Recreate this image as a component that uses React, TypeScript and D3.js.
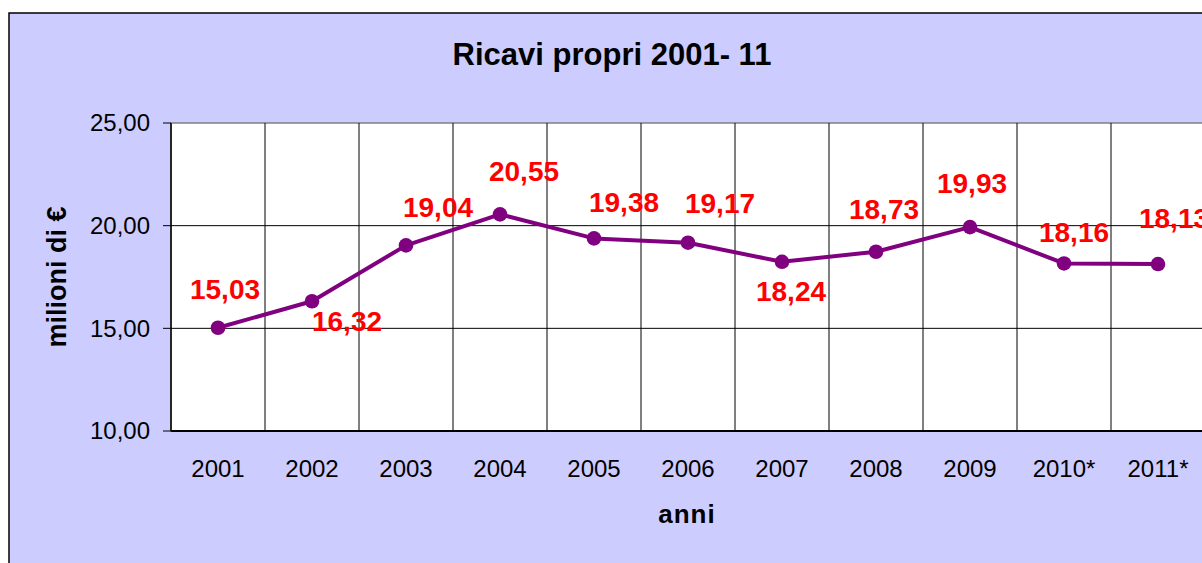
import React from "react";
import * as d3 from "d3";

const categories = ["2001", "2002", "2003", "2004", "2005", "2006", "2007", "2008", "2009", "2010*", "2011*"];
const values = [15.03, 16.32, 19.04, 20.55, 19.38, 19.17, 18.24, 18.73, 19.93, 18.16, 18.13];
const yTicks = [10, 15, 20, 25];
// label placement offsets (baseline centre relative to point)
const labelDx = [7, 35, 32, 24, 30, 32, 9, 8, 2, 10, 16];
const labelDy = [-29, 30, -28, -33, -26, -30, 39, -33, -34, -21, -36];

const W = 1202;
const H = 563;
const plot = { left: 171, top: 123, right: 1205, bottom: 431 };
const FONT = "'Liberation Sans', Arial, Helvetica, sans-serif";

export default function App() {
  const x = d3.scaleBand<string>().domain(categories).range([plot.left, plot.right]).padding(0);
  const y = d3.scaleLinear().domain([10, 25]).range([plot.bottom, plot.top]);
  const cx = (c: string) => (x(c) as number) + x.bandwidth() / 2;
  const line = d3
    .line<number>()
    .x((_, i) => cx(categories[i]))
    .y((d) => y(d));
  const fmt = (v: number) => v.toFixed(2).replace(".", ",");

  return (
    <div style={{ position: "fixed", left: 0, top: 0, width: W, height: H, overflow: "hidden", background: "#fff" }}>
      <svg width={W} height={H} style={{ display: "block" }} fontFamily={FONT}>
        <rect x={9} y={13} width={1220} height={620} fill="#CCCCFF" stroke="#000" strokeWidth={1.5} />
        <text x={612} y={65} textAnchor="middle" fontSize={31} fontWeight="bold" fill="#000">
          Ricavi propri 2001- 11
        </text>
        <rect
          x={plot.left}
          y={plot.top}
          width={plot.right - plot.left}
          height={plot.bottom - plot.top}
          fill="#fff"
          stroke="#808080"
          strokeWidth={1.5}
        />
        {yTicks
          .filter((t) => t > 10 && t < 25)
          .map((t) => (
            <line key={"h" + t} x1={plot.left} x2={plot.right} y1={y(t)} y2={y(t)} stroke="#000" strokeWidth={1} />
          ))}
        {categories.slice(1).map((c) => (
          <line key={"v" + c} x1={x(c)} x2={x(c)} y1={plot.top} y2={plot.bottom} stroke="#000" strokeWidth={1} />
        ))}
        <line x1={plot.left} x2={plot.left} y1={plot.top} y2={plot.bottom} stroke="#000" strokeWidth={1.5} />
        <line x1={plot.left} x2={plot.right} y1={plot.bottom} y2={plot.bottom} stroke="#000" strokeWidth={1.8} />
        {yTicks.map((t) => (
          <g key={"t" + t}>
            <line x1={plot.left - 8} x2={plot.left} y1={y(t)} y2={y(t)} stroke="#000" strokeWidth={1} />
            <text x={150} y={y(t)} dy="0.35em" textAnchor="end" fontSize={24} fill="#000">
              {fmt(t)}
            </text>
          </g>
        ))}
        {categories.map((c) => (
          <text key={"c" + c} x={cx(c)} y={477} textAnchor="middle" fontSize={24} fill="#000">
            {c}
          </text>
        ))}
        <text x={687} y={523} textAnchor="middle" fontSize={26} fontWeight="bold" letterSpacing={1} fill="#000">
          anni
        </text>
        <text
          transform={`translate(66,277) rotate(-90)`}
          textAnchor="middle"
          fontSize={27}
          fontWeight="bold"
          fill="#000"
        >
          milioni di €
        </text>
        <path d={line(values) || ""} fill="none" stroke="#800080" strokeWidth={4} strokeLinejoin="round" />
        {values.map((v, i) => (
          <circle key={"p" + i} cx={cx(categories[i])} cy={y(v)} r={7.3} fill="#800080" />
        ))}
        {values.map((v, i) => (
          <text
            key={"l" + i}
            x={cx(categories[i]) + labelDx[i]}
            y={y(v) + labelDy[i]}
            textAnchor="middle"
            fontSize={28}
            fontWeight="bold"
            fill="#FF0000"
          >
            {fmt(v)}
          </text>
        ))}
      </svg>
    </div>
  );
}
